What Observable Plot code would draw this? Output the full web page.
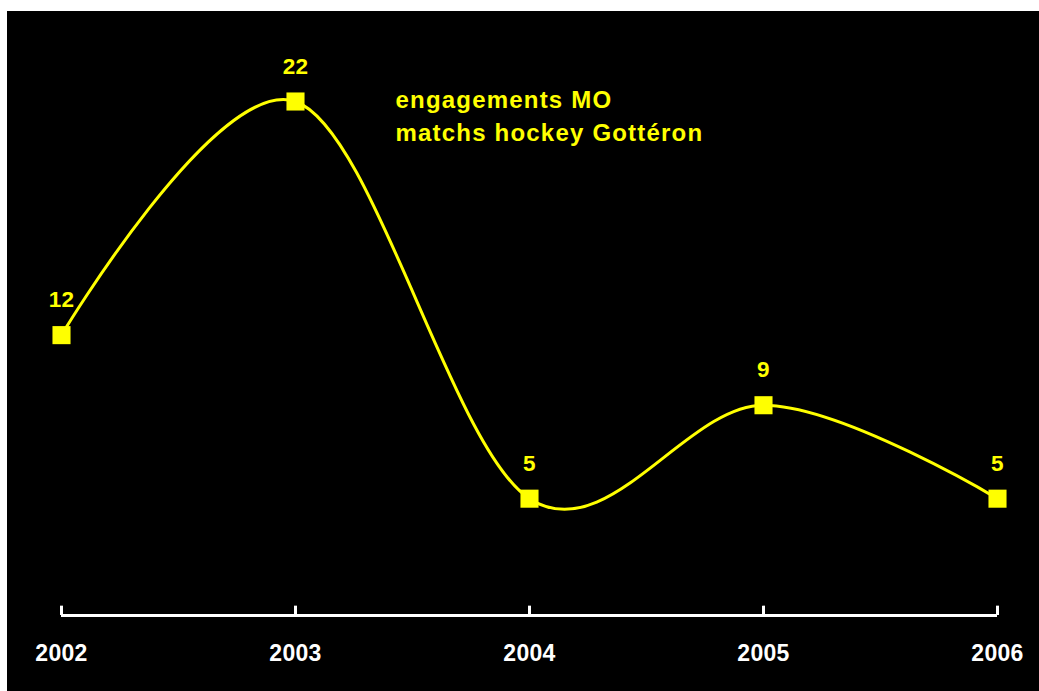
<!DOCTYPE html>
<html>
<head>
<meta charset="utf-8">
<script src="https://cdn.jsdelivr.net/npm/d3@7"></script>
<script src="https://cdn.jsdelivr.net/npm/@observablehq/plot@0.6"></script>
<style>
  html, body { margin: 0; padding: 0; background: #ffffff; }
  #chart { position: absolute; left: 7px; top: 11px; width: 1032px; height: 680px; background: #000000; }
  #chart svg { display: block; }
  #chart svg text { letter-spacing: 0.3px; }
  #chart svg text.legend { letter-spacing: 1.2px; }
</style>
</head>
<body>
<div id="chart"></div>
<script>
const years = [2002, 2003, 2004, 2005, 2006];
const values = [12, 22, 5, 9, 5];
const legendLines = ["engagements MO", "matchs hockey Gottéron"];

const data = years.map((y, i) => ({year: y, value: values[i]}));
const yellow = "#ffff00";
const font = "Liberation Sans, Arial, sans-serif";

const chart = Plot.plot({
  width: 1032,
  height: 680,
  marginLeft: 54,
  marginRight: 42,
  marginTop: 90,
  marginBottom: 76,
  style: {background: "#000000", fontFamily: font},
  x: {domain: [2002, 2006], axis: null},
  y: {domain: [0, 22], axis: null},
  marks: [
    Plot.ruleY([0], {x1: years[0], x2: years[years.length - 1], stroke: "#ffffff", strokeWidth: 3}),
    Plot.ruleX(years, {x: d => d, y1: 0, y2: 0.4, stroke: "#ffffff", strokeWidth: 3}),
    Plot.axisX({ticks: years, tickSize: 0, tickPadding: 29, label: null, tickFormat: d => String(d), fill: "#ffffff", fontSize: 23, fontWeight: "bold", fontFamily: font}),
    Plot.line(data, {x: "year", y: "value", curve: "cardinal", tension: 0, stroke: yellow, strokeWidth: 3}),
    Plot.dot(data, {x: "year", y: "value", symbol: "square", r: 10.2, fill: yellow, stroke: "none"}),
    Plot.text(data, {x: "year", y: "value", text: d => String(d.value), dy: -35, fill: yellow, fontSize: 22.5, fontWeight: "bold", fontFamily: font}),
    Plot.text([legendLines.join("\n")], {frameAnchor: "top-left", dx: 334, dy: -17, textAnchor: "start", lineAnchor: "top", lineHeight: 1.375, fill: yellow, fontSize: 24, fontWeight: "bold", fontFamily: font})
  ]
});
d3.select(chart).selectAll("text").filter(function() { return this.textContent.includes(legendLines[0]); }).classed("legend", true);
document.getElementById("chart").appendChild(chart);
</script>
</body>
</html>
